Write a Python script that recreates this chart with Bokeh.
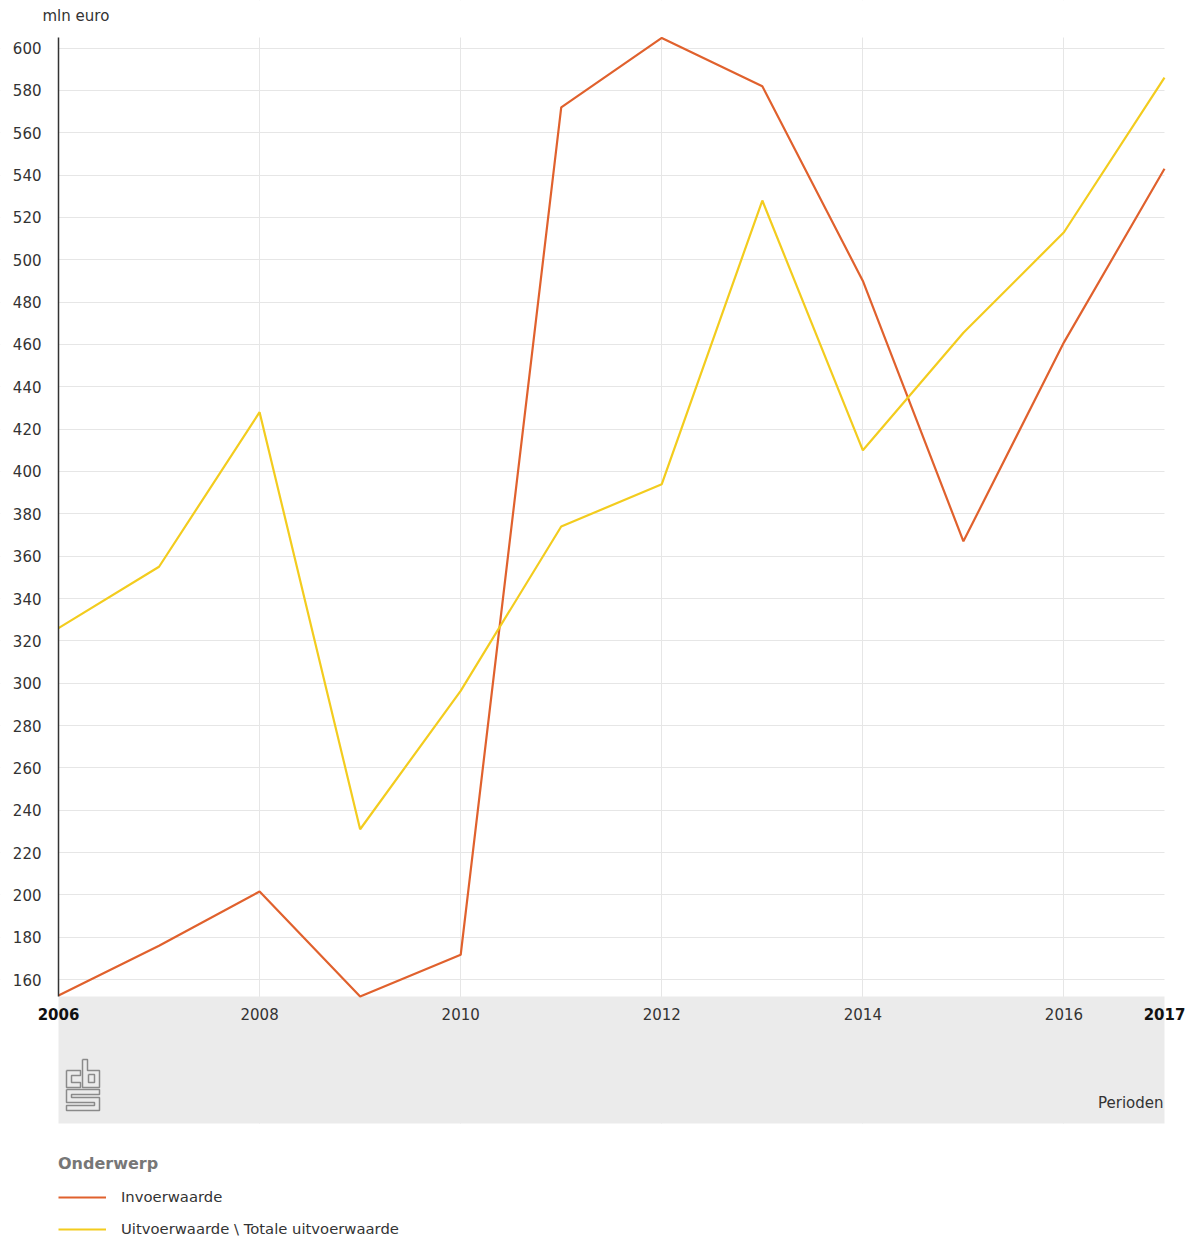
from bokeh.plotting import figure
from bokeh.models import (FixedTicker, LinearAxis, Label, Legend, LegendItem, Range1d)
from bokeh.embed import file_html
from bokeh.resources import INLINE

# ---- data ----
years = [2006, 2007, 2008, 2009, 2010, 2011, 2012, 2013, 2014, 2015, 2016, 2017]
invoerwaarde = [152.5, 176, 201.6, 152, 171.7, 572, 604.8, 582, 490, 367, 461, 543]
uitvoerwaarde = [326, 355, 428, 231, 296.4, 374, 394, 528, 410, 465.5, 513, 586]
series_names = ["Invoerwaarde", "Uitvoerwaarde \\ Totale uitvoerwaarde"]
y_ticks = list(range(160, 601, 20))
x_ticks_regular = [2008, 2010, 2012, 2014, 2016]
x_ticks_bold = [2006, 2017]
y_unit = "mln euro"
x_title = "Perioden"
legend_title = "Onderwerp"

ORANGE = "#e0612d"
YELLOW = "#f3cc1e"
TEXT = "#333333"
FONT = "DejaVu Sans"

# layout (pixels)
W = 1190            # canvas / frame width
PLOT_L = 58         # data area left edge
PLOT_T = 37         # data area top edge
PLOT_W = 1106       # data area width
PLOT_H = 959        # data area height
BAND_H = 127        # grey band under the data area
FRAME_H = 1237      # frame height (whole canvas)
X0, X1 = 2006, 2017
Y0, Y1 = 152, 605
px_x = (X1 - X0) / PLOT_W
units_per_px = (Y1 - Y0) / PLOT_H
X_LEFT = X0 - PLOT_L * px_x
X_RIGHT = X1 + (W - PLOT_L - PLOT_W) * px_x
Y_TOP = Y1 + PLOT_T * units_per_px
Y_BAND = Y0 - BAND_H * units_per_px
Y_LOW = Y_TOP - FRAME_H * units_per_px

p = figure(frame_width=W, frame_height=FRAME_H,
           x_range=Range1d(X_LEFT, X_RIGHT), y_range=Range1d(Y_LOW, Y_TOP),
           output_backend="svg", toolbar_location=None,
           min_border_left=0, min_border_top=0, min_border_right=0, min_border_bottom=0)
p.outline_line_color = None
p.background_fill_color = "white"
p.border_fill_color = "white"

# y axis, fixed at the left edge of the data area
yax = p.yaxis[0]
yax.fixed_location = X0
yax.ticker = FixedTicker(ticks=y_ticks)
yax.bounds = (Y0, Y1)
yax.major_tick_line_color = None
yax.minor_tick_line_color = None
yax.axis_line_color = "#333333"
yax.axis_line_width = 1.5
yax.major_label_text_font = FONT
yax.major_label_text_font_size = "15px"
yax.major_label_text_color = TEXT
yax.major_label_standoff = 11

p.ygrid.ticker = FixedTicker(ticks=y_ticks)
p.ygrid.grid_line_color = "#e6e6e6"
p.ygrid.grid_line_width = 1

p.xgrid.ticker = FixedTicker(ticks=x_ticks_regular)
p.xgrid.grid_line_color = "#e6e6e6"
p.xgrid.grid_line_width = 1

# white margins (hide grid outside the data area) and the grey band
p.quad(left=[X_LEFT, X1, X0, X0], right=[X0, X_RIGHT, X1, X1],
       bottom=[Y_LOW, Y_LOW, Y_LOW, Y1], top=[Y_TOP, Y_TOP, Y_BAND, Y_TOP],
       fill_color="white", line_color=None)
p.quad(left=[X0], right=[X1], bottom=[Y_BAND], top=[Y0],
       fill_color="#ebebeb", line_color=None)

# unit label above the y axis
p.add_layout(Label(x=X0 - 16 * px_x, y=Y_TOP - 15.5 * units_per_px, text=y_unit,
                   text_align="left", text_baseline="middle",
                   text_font=FONT, text_font_size="15px", text_color=TEXT))

# x axis (regular labels), fixed at the top of the band
xax = p.xaxis[0]
xax.ticker = FixedTicker(ticks=x_ticks_regular)
xax.fixed_location = Y0
xax.major_tick_line_color = None
xax.minor_tick_line_color = None
xax.axis_line_color = None
xax.major_label_text_font = FONT
xax.major_label_text_font_size = "15px"
xax.major_label_text_color = TEXT
xax.major_label_standoff = 5

# x axis (bold end labels)
xax2 = LinearAxis(ticker=FixedTicker(ticks=x_ticks_bold), fixed_location=Y0)
xax2.major_tick_line_color = None
xax2.minor_tick_line_color = None
xax2.axis_line_color = None
xax2.major_label_text_font = FONT
xax2.major_label_text_font_size = "15px"
xax2.major_label_text_font_style = "bold"
xax2.major_label_text_color = "#111111"
xax2.major_label_standoff = 5
p.add_layout(xax2, "below")

# "Perioden" at the right end of the band
p.add_layout(Label(x=X1, y=Y0 - 106 * units_per_px, text=x_title,
                   text_align="right", text_baseline="middle", x_offset=-1,
                   text_font=FONT, text_font_size="15px", text_color=TEXT))

# CBS logo outline (pixel offsets inside the band -> data units)
logo_shapes = [
    [(8, 74), (22, 74), (22, 79), (13, 79), (13, 86), (22, 86), (22, 91), (8, 91)],
    [(24, 63), (29, 63), (29, 74), (41, 74), (41, 91), (24, 91)],
    [(30, 78), (36, 78), (36, 86), (30, 86)],
    [(8, 93), (41, 93), (41, 98), (13, 98), (13, 101), (41, 101), (41, 114),
     (8, 114), (8, 109), (36, 109), (36, 106), (8, 106)],
]
lx, ly = [], []
for shp in logo_shapes:
    pts = shp + [shp[0]]
    lx.append([X0 + dx * px_x for dx, dy in pts])
    ly.append([Y0 - dy * units_per_px for dx, dy in pts])
p.multi_line(lx, ly, line_color="#8a8a8a", line_width=1.5)

# lines
r1 = p.line(years, invoerwaarde, line_color=ORANGE, line_width=2.2)
r2 = p.line(years, uitvoerwaarde, line_color=YELLOW, line_width=2.2)

legend = Legend(items=[LegendItem(label=series_names[0], renderers=[r1]),
                       LegendItem(label=series_names[1], renderers=[r2])],
                location=(PLOT_L, 0), orientation="vertical",
                title=legend_title, margin=0, padding=0, spacing=15,
                glyph_width=48, glyph_height=16, label_height=16,
                label_standoff=15, title_standoff=15,
                border_line_color=None, background_fill_alpha=0)
legend.title_text_font = FONT
legend.title_text_font_size = "16px"
legend.title_text_font_style = "bold"
legend.title_text_color = "#777777"
legend.label_text_font = FONT
legend.label_text_font_size = "14.8px"
legend.label_text_color = TEXT
p.add_layout(legend)

open("out.html", "w").write(file_html(p, INLINE))
